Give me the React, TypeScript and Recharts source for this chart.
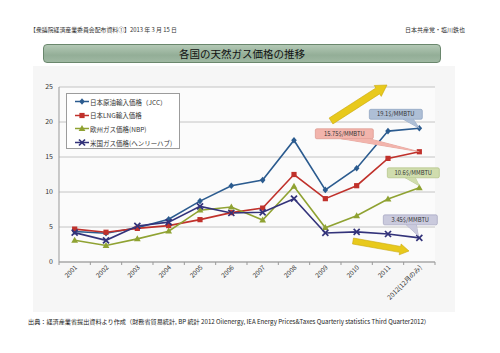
import { LineChart, Line, XAxis, YAxis, CartesianGrid, Legend, LabelList } from 'recharts';

const YEARS = ['2001', '2002', '2003', '2004', '2005', '2006', '2007', '2008', '2009', '2010', '2011', '2012(12月のみ)'];
const JCC = [4.35, 4.1, 4.9, 6.1, 8.7, 10.9, 11.7, 17.4, 10.3, 13.4, 18.7, 19.1];
const LNG = [4.7, 4.25, 4.8, 5.2, 6.05, 7.05, 7.7, 12.5, 9.05, 10.9, 14.8, 15.75];
const NBP = [3.1, 2.35, 3.3, 4.4, 7.4, 7.85, 6.0, 10.8, 4.9, 6.6, 9.0, 10.6];
const HH = [4.2, 3.1, 5.15, 5.7, 7.95, 7.0, 7.1, 9.05, 4.15, 4.3, 4.0, 3.45];
const Y_TICKS = [0, 5, 10, 15, 20, 25];

const SERIES_NAMES = ['日本原油輸入価格（JCC）', '日本LNG輸入価格', '欧州ガス価格(NBP)', '米国ガス価格(ヘンリーハブ)'];
const CALLOUTS = ['19.1$/MMBTU', '15.75$/MMBTU', '10.6$/MMBTU', '3.45$/MMBTU'];

const TITLE = '各国の天然ガス価格の推移';
const HEADER_LEFT = '【衆議院経済産業委員会配布資料①】2013 年 3 月 15 日';
const HEADER_RIGHT = '日本共産党・塩川鉄也';
const SOURCE =
  '出典：経済産業省提出資料より作成（財務省貿易統計, BP 統計 2012 Oilenergy, IEA Energy Prices&Taxes Quarterly statistics Third Quarter2012）';

const data = YEARS.map((year, i) => ({ year, jcc: JCC[i], lng: LNG[i], nbp: NBP[i], hh: HH[i] }));

const FONT = '"Noto Sans CJK JP", "Noto Sans", sans-serif';
const BLUE = '#2b5b8f';
const RED = '#c0312b';
const GREEN = '#8fa232';
const PURPLE = '#33337a';
const COLORS = [BLUE, RED, GREEN, PURPLE];
const KEYS = ['jcc', 'lng', 'nbp', 'hh'];
const HALF_BAND = 15.67;

// callout box look, offsets relative to the last point
const CALLOUT_STYLE = [
  { fill: '#aebfd6', stroke: '#7f97b8', dx: -50, dy: -19, w: 53, h: 10, base: [-16, -6], by: -9, tip: [0, 0] },
  { fill: '#f2b4ac', stroke: '#d68c82', dx: -104, dy: -23, w: 58, h: 10, base: [-78, -50], by: -13, tip: [0, 0] },
  { fill: '#d0ddae', stroke: '#a9bc78', dx: -32, dy: -20, w: 52, h: 10, base: [-14, -4], by: -10, tip: [0, -2] },
  { fill: '#cacadd', stroke: '#9b9bb9', dx: -36, dy: -23, w: 54, h: 10, base: [-13, -3], by: -13, tip: [-1, -2] },
];

function Marker({ kind, cx, cy, color }: { kind: number; cx: number; cy: number; color: string }) {
  if (cx == null || cy == null) return null;
  if (kind === 0)
    return <polygon points={`${cx},${cy - 3.3} ${cx + 2.8},${cy} ${cx},${cy + 3.3} ${cx - 2.8},${cy}`} fill={color} />;
  if (kind === 1) return <rect x={cx - 2.6} y={cy - 2.6} width={5.2} height={5.2} fill={color} />;
  if (kind === 2)
    return <polygon points={`${cx},${cy - 3.6} ${cx + 3.4},${cy + 2.4} ${cx - 3.4},${cy + 2.4}`} fill={color} />;
  return (
    <g stroke={color} strokeWidth={1.7}>
      <line x1={cx - 3} y1={cy - 3} x2={cx + 3} y2={cy + 3} />
      <line x1={cx - 3} y1={cy + 3} x2={cx + 3} y2={cy - 3} />
    </g>
  );
}

function makeCallout(s: number) {
  return (props: any) => {
    const { x, y, index } = props;
    if (index !== YEARS.length - 1) return null;
    const c = CALLOUT_STYLE[s];
    const wedge = `${x + c.base[0]},${y + c.by} ${x + c.base[1]},${y + c.by} ${x + c.tip[0]},${y + c.tip[1]}`;
    return (
      <g>
        <polygon points={wedge} fill={c.fill} stroke={c.stroke} strokeWidth={0.6} />
        <rect x={x + c.dx} y={y + c.dy} width={c.w} height={c.h} rx={1.5} fill={c.fill} stroke={c.stroke} strokeWidth={0.6} />
        <polygon points={wedge} fill={c.fill} />
        <text
          x={x + c.dx + c.w / 2}
          y={y + c.dy + c.h / 2}
          dy={2}
          textAnchor="middle"
          fontSize={5.8}
          fill="#333"
          fontFamily={FONT}
        >
          {CALLOUTS[s]}
        </text>
      </g>
    );
  };
}

function YearTick(props: any) {
  const { x, y, payload, index } = props;
  const half = payload.offset || HALF_BAND;
  return (
    <g>
      <line x1={x - half} x2={x - half} y1={y} y2={y + 3} stroke="#999" />
      {index === YEARS.length - 1 && <line x1={x + half} x2={x + half} y1={y} y2={y + 3} stroke="#999" />}
      <text
        transform={`translate(${x + 3},${y + 6}) rotate(-45)`}
        textAnchor="end"
        fontSize={6.5}
        fill="#333"
        fontFamily={FONT}
      >
        {payload.value}
      </text>
    </g>
  );
}

function LegendBox() {
  return (
    <div
      style={{
        width: 114,
        height: 56,
        border: '1px solid #9c9c9c',
        background: '#fff',
        boxSizing: 'border-box',
        paddingTop: 1,
        fontFamily: FONT,
      }}
    >
      {SERIES_NAMES.map((name, i) => (
        <div key={name} style={{ height: 13.6, display: 'flex', alignItems: 'center', fontSize: 6.5, color: '#333' }}>
          <svg width={22} height={9} style={{ marginLeft: 7 }}>
            <line x1={1} x2={15} y1={4.5} y2={4.5} stroke={COLORS[i]} strokeWidth={1.5} />
            <Marker kind={i} cx={8} cy={4.5} color={COLORS[i]} />
          </svg>
          <span style={{ marginLeft: -6 }}>{name}</span>
        </div>
      ))}
    </div>
  );
}

function arrow(x1: number, y1: number, x2: number, y2: number, w: number, hw: number, hl: number) {
  const len = Math.hypot(x2 - x1, y2 - y1);
  const ux = (x2 - x1) / len;
  const uy = (y2 - y1) / len;
  const nx = -uy;
  const ny = ux;
  const bx = x2 - ux * hl;
  const by = y2 - uy * hl;
  const pts = [
    [x1 + (nx * w) / 2, y1 + (ny * w) / 2],
    [bx + (nx * w) / 2, by + (ny * w) / 2],
    [bx + (nx * hw) / 2, by + (ny * hw) / 2],
    [x2, y2],
    [bx - (nx * hw) / 2, by - (ny * hw) / 2],
    [bx - (nx * w) / 2, by - (ny * w) / 2],
    [x1 - (nx * w) / 2, y1 - (ny * w) / 2],
  ];
  return pts.map((p) => p.join(',')).join(' ');
}

export default function App() {
  return (
    <div style={{ position: 'absolute', left: 0, top: 0, width: 500, height: 353, background: '#fff', overflow: 'hidden' }}>
      <div style={{ position: 'absolute', left: 33, top: 66, width: 422, height: 246, background: '#f6f6f6' }} />
      <div
        style={{
          position: 'absolute',
          left: 43,
          top: 44,
          width: 398,
          height: 19,
          boxSizing: 'border-box',
          border: '1px solid #6a876d',
          borderRadius: 4,
          background: 'linear-gradient(#b3c8b5, #93ae97 60%, #9fb8a2)',
          fontFamily: FONT,
          fontSize: 10.5,
          lineHeight: '17px',
          textAlign: 'center',
          color: '#111',
        }}
      >
        {TITLE}
      </div>
      <div style={{ position: 'absolute', left: 0, top: 0 }}>
        <LineChart width={500} height={353} data={data} margin={{ top: 87, right: 65, bottom: 0, left: 0 }}>
          <CartesianGrid vertical={false} stroke="#c4c4c4" fill="#fbfbfb" />
          <XAxis
            dataKey="year"
            height={91}
            interval={0}
            padding={{ left: HALF_BAND, right: HALF_BAND }}
            tickLine={false}
            tickSize={0}
            tickMargin={0}
            stroke="#999"
            tick={<YearTick />}
          />
          <YAxis
            width={59}
            domain={[0, 25]}
            ticks={Y_TICKS}
            tickLine={false}
            tickSize={0}
            tickMargin={6}
            stroke="#999"
            tick={{ fontSize: 7, fill: '#333', fontFamily: FONT }}
          />
          <Legend
            layout="vertical"
            align="center"
            verticalAlign="middle"
            wrapperStyle={{ left: 66, top: 93, width: 114, height: 56 }}
            content={() => <LegendBox />}
          />
          {KEYS.map((k, i) => (
            <Line
              key={k}
              dataKey={k}
              name={SERIES_NAMES[i]}
              stroke={COLORS[i]}
              strokeWidth={1.6}
              isAnimationActive={false}
              dot={(p: any) => <Marker key={`${k}-${p.index}`} kind={i} cx={p.cx} cy={p.cy} color={COLORS[i]} />}
            >
              <LabelList dataKey={k} content={makeCallout(i)} />
            </Line>
          ))}
        </LineChart>
      </div>
      <svg width={500} height={353} style={{ position: 'absolute', left: 0, top: 0, pointerEvents: 'none' }}>
        <text x={30} y={32} fontSize={6.2} fill="#333" fontFamily={FONT} textLength={147} lengthAdjust="spacingAndGlyphs">
          {HEADER_LEFT}
        </text>
        <text x={465} y={32} fontSize={6} fill="#333" fontFamily={FONT} textAnchor="end">
          {HEADER_RIGHT}
        </text>
        <text x={28} y={324} fontSize={6} fill="#222" fontFamily={FONT} textLength={402} lengthAdjust="spacingAndGlyphs">
          {SOURCE}
        </text>
        <polygon points={arrow(331, 121, 387, 85, 7, 13, 11)} fill="#e8c91c" stroke="#c9a80e" strokeWidth={0.6} />
        <polygon points={arrow(353, 241, 409, 251, 6, 11, 9)} fill="#e8c91c" stroke="#c9a80e" strokeWidth={0.6} />
      </svg>
    </div>
  );
}
